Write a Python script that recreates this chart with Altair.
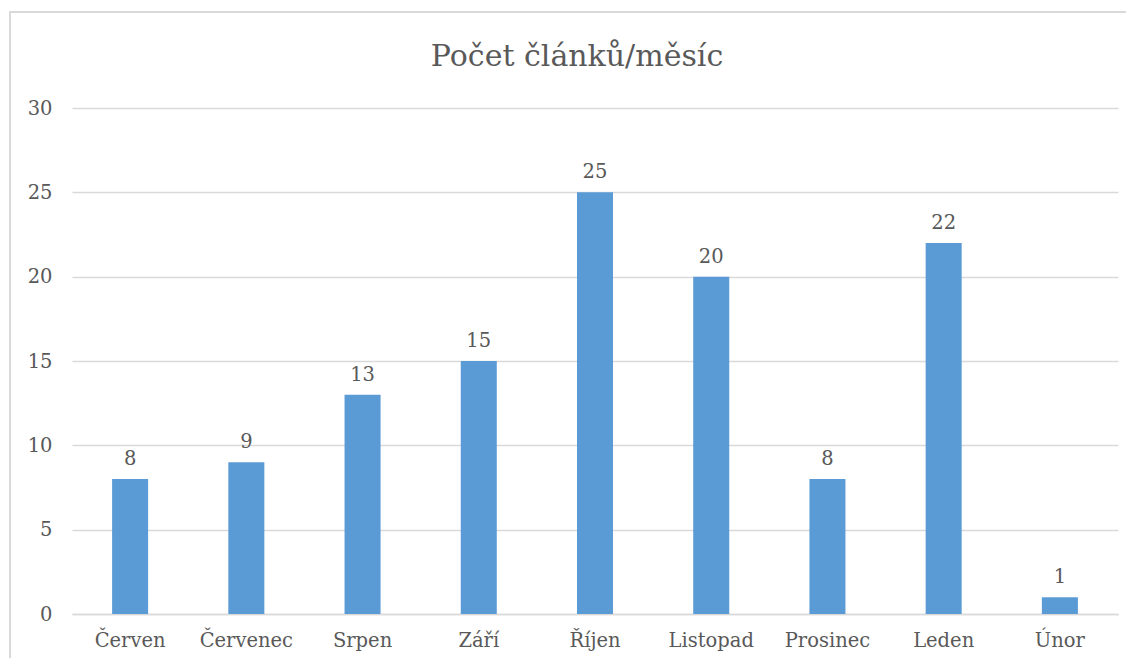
import altair as alt
import pandas as pd

months = ["Červen", "Červenec", "Srpen", "Září", "Říjen", "Listopad", "Prosinec", "Leden", "Únor"]
counts = [8, 9, 13, 15, 25, 20, 8, 22, 1]
y_ticks = [0, 5, 10, 15, 20, 25, 30]
title_text = "Počet článků/měsíc"

df = pd.DataFrame({"mesic": months, "pocet": counts})

FONT = "DejaVu Serif"
TXT = "#595959"
FS = 19.5

x_enc = alt.X("mesic:N", sort=months, title=None,
              scale=alt.Scale(paddingInner=0.69, paddingOuter=0.345),
              axis=alt.Axis(labelAngle=0, labelFont=FONT, labelFontSize=FS, labelColor=TXT,
                            labelPadding=17, ticks=False, domainColor="#d9d9d9", domainWidth=1.3,
                            grid=False))
y_enc = alt.Y("pocet:Q", title=None,
              scale=alt.Scale(domain=[0, 30]),
              axis=alt.Axis(values=y_ticks, labelFont=FONT, labelFontSize=FS, labelColor=TXT,
                            labelPadding=20, ticks=False, domain=False, grid=True,
                            gridColor="#d9d9d9", gridWidth=1.3))

bars = alt.Chart(df).mark_bar(color="#5B9BD5").encode(x=x_enc, y=y_enc)
labels = alt.Chart(df).mark_text(baseline="bottom", dy=-10, font=FONT, fontSize=FS, color=TXT).encode(
    x=alt.X("mesic:N", sort=months), y=alt.Y("pocet:Q"), text=alt.Text("pocet:Q"))
border = alt.Chart(df).mark_rect(fill=None, stroke="#d9d9d9", strokeWidth=1.5).encode(
    x=alt.value(-62), x2=alt.value(1150), y=alt.value(-96), y2=alt.value(700))
title = alt.Chart(pd.DataFrame({"t": [title_text]})).mark_text(
    font=FONT, fontSize=30, color=TXT, align="center", baseline="alphabetic").encode(
    x=alt.value(505), y=alt.value(-42), text="t:N")

chart = alt.layer(border, bars, labels, title).properties(
    width=1046, height=506,
    autosize=alt.AutoSizeParams(type="none"),
    padding={"left": 64, "top": 100, "right": 8, "bottom": 44},
).configure(font=FONT).configure_view(stroke=None)

chart.save("out.html", embed_options={"renderer": "svg", "actions": False})
